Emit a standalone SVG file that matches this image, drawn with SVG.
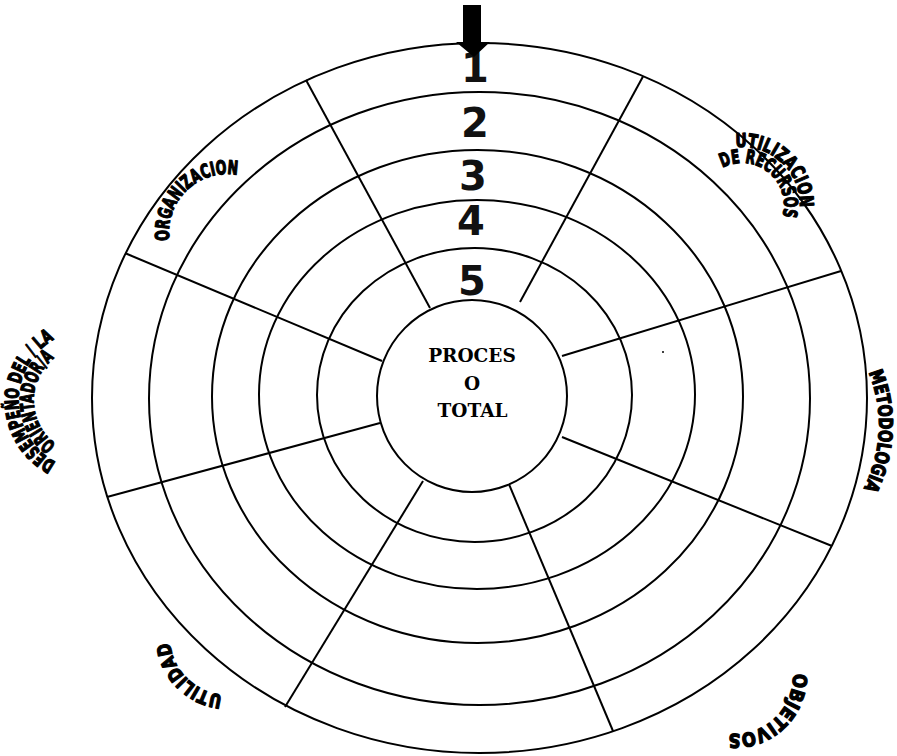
<svg xmlns="http://www.w3.org/2000/svg" width="897" height="756" viewBox="0 0 897 756">
<style>
.ring{fill:none;stroke:#000;stroke-width:2}
.spoke{stroke:#000;stroke-width:2;fill:none}
.num{font-family:"DejaVu Sans",sans-serif;font-weight:bold;font-size:40px;fill:#111;text-anchor:middle}
.ctr{font-family:"DejaVu Serif","Liberation Serif",serif;font-weight:bold;font-size:18.5px;fill:#000;text-anchor:middle}
.arc{font-family:"DejaVu Sans",sans-serif;font-weight:bold;font-size:19px;fill:#000;stroke:#000;stroke-width:1.3;stroke-linejoin:round}
</style>
<defs>
<path id="pOrg" d="M174.0,255.6 A58,58 0 0 1 252.4,179.9"/>
<path id="pUt1" d="M715.7,153.3 A58,58 0 0 1 795.4,227.7"/>
<path id="pUt2" d="M714.4,173.3 A42,42 0 0 1 778.7,225.4"/>
<path id="pMet" d="M850.3,340.4 A139,139 0 0 1 842.5,518.9"/>
<path id="pObj" d="M788.4,653.3 A58,58 0 0 1 708.7,727.7"/>
<path id="pDes1" d="M54.6,461.6 A70,70 0 0 1 52.8,340.2"/>
<path id="pDes2" d="M66,450 A54,54 0 0 1 64,352"/>
<path id="pUtil" d="M232,695 A58,58 0 0 1 170,633"/>
</defs>
<g id="rings">
<ellipse class="ring" cx="479.5" cy="398" rx="387.5" ry="355"/>
<ellipse class="ring" cx="479.5" cy="398.5" rx="330.5" ry="306.5"/>
<ellipse class="ring" cx="477.5" cy="396.5" rx="265.5" ry="246.5"/>
<ellipse class="ring" cx="477" cy="394.5" rx="218" ry="194.5"/>
<ellipse class="ring" cx="474.5" cy="395" rx="157.5" ry="147"/>
</g>
<g id="connectors">
<line class="spoke" x1="430" y1="308" x2="306" y2="80"/>
<line class="spoke" x1="520" y1="302" x2="643" y2="76.5"/>
<line class="spoke" x1="562" y1="356" x2="841" y2="271"/>
<line class="spoke" x1="562" y1="437" x2="832" y2="546"/>
<line class="spoke" x1="508" y1="482" x2="613" y2="731"/>
<line class="spoke" x1="423" y1="481" x2="285" y2="707"/>
<line class="spoke" x1="380" y1="423" x2="107" y2="497"/>
<line class="spoke" x1="382" y1="361" x2="126" y2="253.5"/>
</g>
<g id="center-node">
<ellipse cx="472" cy="396" rx="95" ry="96" fill="#fff" stroke="#000" stroke-width="2"/>
<text class="ctr" x="472" y="362">PROCES</text>
<text class="ctr" x="472" y="390">O</text>
<text class="ctr" x="472.5" y="417">TOTAL</text>
</g>
<g id="levels">
<text class="num" x="475" y="82">1</text>
<text class="num" x="475" y="137">2</text>
<text class="num" x="473" y="190">3</text>
<text class="num" x="471" y="235">4</text>
<text class="num" x="472" y="295">5</text>
</g>
<g id="start-arrow">
<polygon points="463,5 481,5 481,42 490,42 474,57 456,42 463,42" fill="#000"/>
</g>
<g id="label-organizacion"><text class="arc"><textPath href="#pOrg" startOffset="50%" text-anchor="middle" textLength="110" lengthAdjust="spacingAndGlyphs">ORGANIZACION</textPath></text></g>
<g id="label-utilizacion">
<text class="arc"><textPath href="#pUt1" startOffset="50%" text-anchor="middle" textLength="100" lengthAdjust="spacingAndGlyphs">UTILIZACION</textPath></text>
<text class="arc"><textPath href="#pUt2" startOffset="50%" text-anchor="middle" textLength="98" lengthAdjust="spacingAndGlyphs">DE RECURSOS</textPath></text>
</g>
<g id="label-metodologia"><text class="arc"><textPath href="#pMet" startOffset="50%" text-anchor="middle" textLength="120" lengthAdjust="spacingAndGlyphs">METODOLOGIA</textPath></text></g>
<g id="label-objetivos"><text class="arc"><textPath href="#pObj" startOffset="50%" text-anchor="middle" textLength="100" lengthAdjust="spacingAndGlyphs">OBJETIVOS</textPath></text></g>
<g id="label-desempeno">
<text class="arc"><textPath href="#pDes1" startOffset="50%" text-anchor="middle" textLength="150" lengthAdjust="spacingAndGlyphs">DESEMPEÑO DEL / LA</textPath></text>
<text class="arc"><textPath href="#pDes2" startOffset="50%" text-anchor="middle" textLength="100" lengthAdjust="spacingAndGlyphs">ORIENTADOR/A</textPath></text>
</g>
<g id="label-utilidad"><text class="arc"><textPath href="#pUtil" startOffset="50%" text-anchor="middle" textLength="80" lengthAdjust="spacingAndGlyphs">UTILIDAD</textPath></text></g>
<circle cx="663" cy="352" r="1" fill="#000"/>
</svg>
